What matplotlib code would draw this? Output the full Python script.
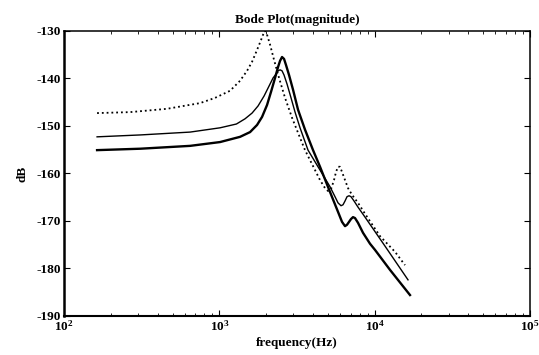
import numpy as np
from matplotlib import pyplot as plt

plt.rcParams['font.family'] = 'Liberation Serif'
plt.rcParams['font.weight'] = 'bold'
plt.rcParams['mathtext.fontset'] = 'custom'
plt.rcParams['mathtext.rm'] = 'Liberation Serif:bold'
plt.rcParams['axes.unicode_minus'] = False

# dotted curve (highest start, resonance near 2 kHz)
f_dot = [163, 266, 460, 751, 938, 1172, 1359, 1508, 1624, 1749, 1856, 1912,
         1970, 2028, 2121, 2250, 2423, 2649, 2939, 3308, 3563, 3837, 4450,
         4793, 5011, 5240, 5477, 5641, 5813, 5988, 6167, 6449, 6742, 7153,
         7819, 8675, 10834, 13532, 15696]
db_dot = [-147.3, -147.1, -146.4, -145.2, -144.1, -142.6, -140.5, -138.4,
          -136.5, -134.0, -131.9, -130.8, -130.0, -130.8, -132.9, -136.1,
          -139.9, -144.1, -148.3, -152.5, -155.1, -157.2, -161.4, -163.1,
          -163.7, -163.3, -161.4, -159.7, -158.6, -158.6, -159.7, -161.4,
          -163.1, -164.5, -166.2, -168.5, -173.2, -176.5, -179.3]

# thin solid curve
f_thin = [163, 310, 648, 1010, 1288, 1464, 1624, 1775, 1941, 2090, 2218, 2318,
          2388, 2460, 2533, 2610, 2729, 2895, 3073, 3308, 3725, 4450, 5161,
          5559, 5813, 6076, 6259, 6449, 6642, 6843, 7047, 7369, 7819, 8675,
          11668, 16413]
db_thin = [-152.3, -151.9, -151.3, -150.4, -149.6, -148.5, -147.3, -145.8,
           -143.7, -141.6, -139.9, -139.1, -138.4, -138.2, -138.4, -139.3,
           -141.2, -144.1, -147.1, -150.4, -155.1, -159.3, -162.8, -164.9,
           -166.2, -166.8, -166.6, -165.8, -164.9, -164.7, -164.9, -165.8,
           -167.1, -169.2, -175.3, -182.4]

# thick solid curve
f_thick = [163, 310, 648, 1010, 1359, 1577, 1749, 1884, 2028, 2153, 2284, 2388,
           2460, 2533, 2610, 2688, 2811, 2983, 3212, 3563, 4012, 4450, 5161,
           5813, 6167, 6449, 6642, 6843, 7047, 7260, 7479, 7819, 8420, 9342,
           10060, 12566, 16905]
db_thick = [-155.1, -154.8, -154.2, -153.4, -152.3, -151.3, -149.8, -148.1,
            -145.6, -142.8, -139.9, -137.6, -136.3, -135.5, -135.9, -137.2,
            -139.3, -142.4, -146.6, -150.8, -155.1, -158.6, -163.9, -168.1,
            -170.2, -171.1, -170.8, -170.2, -169.6, -169.2, -169.4, -170.4,
            -172.5, -174.8, -176.1, -180.3, -185.6]

fig = plt.figure(figsize=(5.39, 3.55), dpi=100)
ax = fig.add_axes([0.119, 0.110, 0.864, 0.803])

ax.semilogx(f_dot, db_dot, 'k:', lw=1.3)
ax.semilogx(f_thin, db_thin, 'k-', lw=1.0)
ax.semilogx(f_thick, db_thick, 'k-', lw=1.7)

ax.set_xlim(1e2, 1e5)
ax.set_ylim(-190, -130)
ax.set_yticks(np.arange(-190, -129, 10))
ax.tick_params(which='both', direction='in', top=True, right=True, labelsize=9.5)
ax.tick_params(which='major', length=4, pad=2)
ax.tick_params(which='minor', length=2.5)
for s in ax.spines.values():
    s.set_linewidth(1.1)
ax.spines['left'].set_linewidth(1.8)
ax.spines['bottom'].set_linewidth(1.5)

ax.set_title('Bode Plot(magnitude)', fontsize=9.5, fontweight='bold', pad=6)
ax.set_xlabel('frequency(Hz)', fontsize=9.5, fontweight='bold', labelpad=3)
ax.set_ylabel('dB', fontsize=9.5, fontweight='bold', labelpad=6)

plt.savefig('out.png', dpi=100)
